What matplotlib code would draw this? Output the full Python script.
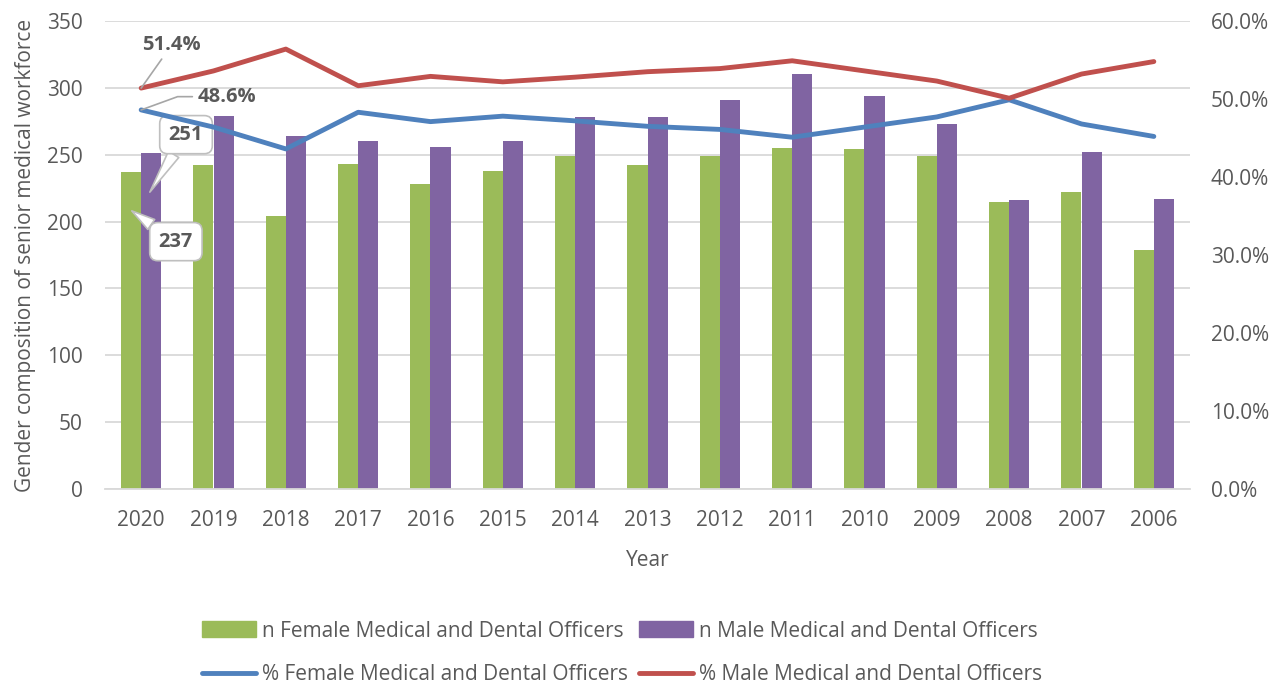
import matplotlib
matplotlib.use("Agg")
import matplotlib.pyplot as plt
import numpy as np
from matplotlib.lines import Line2D
from matplotlib.patches import Patch

plt.rcParams['font.family'] = ['Open Sans', 'DejaVu Sans']

years = ['2020', '2019', '2018', '2017', '2016', '2015', '2014', '2013',
         '2012', '2011', '2010', '2009', '2008', '2007', '2006']
n_female = [237, 242, 204, 243, 228, 238, 249, 242, 249, 255, 254, 249, 215, 222, 179]
n_male = [251, 279, 264, 260, 256, 260, 278, 278, 291, 310, 294, 273, 216, 252, 217]
pct_female = [48.6, 46.4, 43.6, 48.3, 47.1, 47.8, 47.2, 46.5, 46.1, 45.1, 46.4, 47.7, 49.9, 46.8, 45.2]
pct_male = [51.4, 53.6, 56.4, 51.7, 52.9, 52.2, 52.8, 53.5, 53.9, 54.9, 53.6, 52.3, 50.1, 53.2, 54.8]

labels = ['n Female Medical and Dental Officers', 'n Male Medical and Dental Officers',
          '% Female Medical and Dental Officers', '% Male Medical and Dental Officers']

GREEN = '#9BBB59'
PURPLE = '#8064A2'
BLUE = '#4F81BD'
RED = '#C0504D'
TXT = '#595959'
GRID = '#D9D9D9'

fig = plt.figure(figsize=(12.73, 6.90), dpi=100)
ax = fig.add_axes([105/1273, 1-489/690, (1190-105)/1273, (489-21)/690])
ax2 = ax.twinx()

x = np.arange(len(years))
w = 0.28
ax.bar(x - w/2, n_female, w, color=GREEN, zorder=2)
ax.bar(x + w/2, n_male, w, color=PURPLE, zorder=2)

ax.set_xlim(-0.5, len(years) - 0.5)
ax.set_ylim(0, 350)
ax.set_yticks(np.arange(0, 351, 50))
ax.set_xticks(x)
ax.set_xticklabels(years)
ax.grid(axis='y', color=GRID, linewidth=1.3, zorder=0)
ax.set_axisbelow(True)
for s in ['top', 'right', 'left']:
    ax.spines[s].set_visible(False)
ax.spines['bottom'].set_color(GRID)
ax.spines['bottom'].set_linewidth(1.3)
ax.tick_params(axis='both', length=0, labelsize=15, colors=TXT)
ax.tick_params(axis='x', pad=15)
ax.tick_params(axis='y', pad=16)
ax.set_xlabel('Year', fontsize=15, color=TXT, labelpad=14)
ax.set_ylabel('Gender composition of senior medical workforce', fontsize=15, color=TXT, labelpad=8)

ax2.plot(x, pct_female, color=BLUE, linewidth=3.5, solid_capstyle='round', solid_joinstyle='round', zorder=3)
ax2.plot(x, pct_male, color=RED, linewidth=3.5, solid_capstyle='round', solid_joinstyle='round', zorder=3)
ax2.set_ylim(0, 60)
ax2.set_yticks(np.arange(0, 61, 10))
ax2.set_yticklabels([f'{v:.1f}%' for v in np.arange(0, 61, 10)])
for s in ['top', 'right', 'left', 'bottom']:
    ax2.spines[s].set_visible(False)
ax2.tick_params(axis='y', length=0, labelsize=15, colors=TXT, pad=15)

# Data labels for 2020
ax2.annotate(f'{pct_male[0]:.1f}%', xy=(x[0], pct_male[0]), xytext=(x[0] + 0.42, 56.9),
             fontsize=14.5, fontweight='bold', color=TXT, ha='center', va='center',
             arrowprops=dict(arrowstyle='-', color='#A6A6A6', lw=1.2, shrinkA=1, shrinkB=0))
ax2.annotate(f'{pct_female[0]:.1f}%', xy=(x[0], pct_female[0]), xytext=(x[0] + 1.19, 50.3),
             fontsize=14.5, fontweight='bold', color=TXT, ha='center', va='center',
             arrowprops=dict(arrowstyle='-', color='#A6A6A6', lw=1.2, shrinkA=2, shrinkB=0,
                             connectionstyle='angle,angleA=0,angleB=20,rad=0'))

box = dict(boxstyle='round,pad=0.45,rounding_size=0.4', fc='white', ec='#BFBFBF', lw=1.2)
ax.annotate(f'{n_male[0]}', xy=(x[0] + 0.12, 222), xytext=(x[0] + 0.62, 265),
            fontsize=14.5, fontweight='bold', color=TXT, ha='center', va='center', bbox=box,
            arrowprops=dict(arrowstyle='wedge,tail_width=0.6', fc='white', ec='#BFBFBF', lw=1.2,
                            shrinkA=0, shrinkB=0), zorder=5)
ax.annotate(f'{n_female[0]}', xy=(x[0] - 0.13, 208), xytext=(x[0] + 0.48, 185),
            fontsize=14.5, fontweight='bold', color=TXT, ha='center', va='center', bbox=box,
            arrowprops=dict(arrowstyle='wedge,tail_width=0.6', fc='white', ec='#BFBFBF', lw=1.2,
                            shrinkA=0, shrinkB=0), zorder=5)

handles = [Patch(color=GREEN), Line2D([], [], color=BLUE, lw=3.5, solid_capstyle='round'),
           Patch(color=PURPLE), Line2D([], [], color=RED, lw=3.5, solid_capstyle='round')]
leg_labels = [labels[0], labels[2], labels[1], labels[3]]
fig.legend(handles, leg_labels, ncol=2, loc='center', bbox_to_anchor=(622/1273, 1-653/690),
           frameon=False, fontsize=15, labelcolor=TXT, handlelength=2.6, handleheight=0.8,
           handletextpad=0.3, columnspacing=0.5, labelspacing=1.1)

fig.savefig('out.png', dpi=100)
